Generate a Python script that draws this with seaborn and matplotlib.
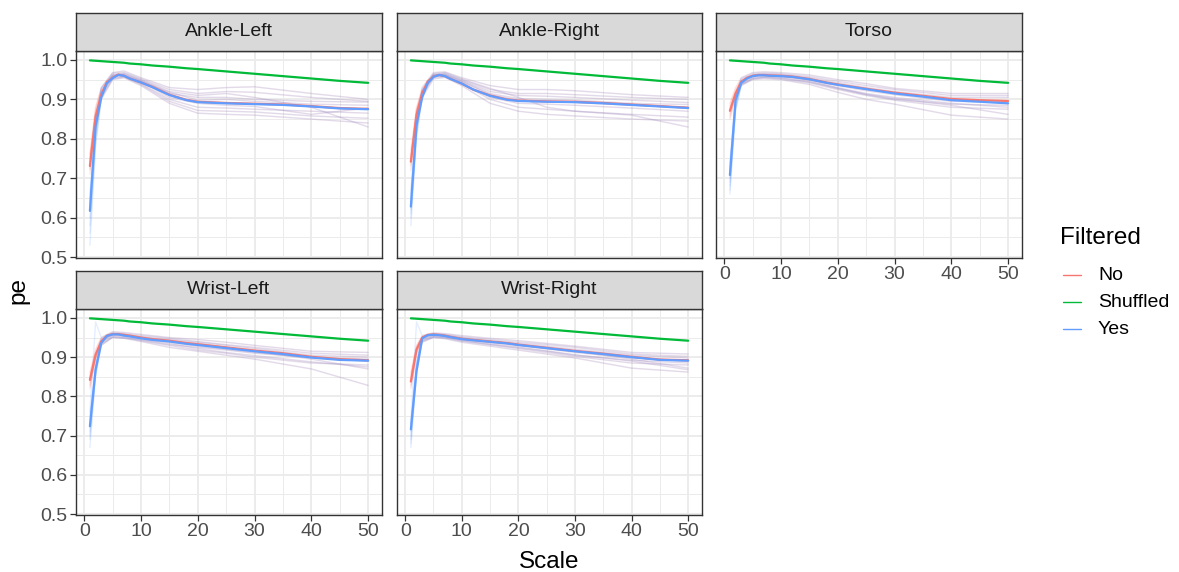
import matplotlib
matplotlib.use("Agg")
import matplotlib.pyplot as plt
from matplotlib.lines import Line2D
from matplotlib.ticker import MultipleLocator, FixedLocator
import pandas as pd
import seaborn as sns

# ---------------- data ----------------
PANELS = ["Ankle-Left", "Ankle-Right", "Torso", "Wrist-Left", "Wrist-Right"]
FILTERED = ["No", "Shuffled", "Yes"]
COLORS = {"No": "#F8766D", "Shuffled": "#00BA38", "Yes": "#619CFF"}
X_TICKS = [0, 10, 20, 30, 40, 50]
Y_TICKS = [0.5, 0.6, 0.7, 0.8, 0.9, 1.0]
Y_TICK_LABELS = ["0.5", "0.6", "0.7", "0.8", "0.9", "1.0"]

SCALE = [1, 2, 3, 4, 5, 6, 7, 8, 10, 12, 15, 18, 20, 25, 30, 35, 40, 45, 50]

ankle_left_no = [0.731, 0.856, 0.912, 0.944, 0.955, 0.963, 0.960, 0.953, 0.943, 0.932, 0.912, 0.899, 0.894, 0.891, 0.889, 0.887, 0.883, 0.878, 0.876]
ankle_left_yes = [0.617, 0.831, 0.905, 0.941, 0.954, 0.962, 0.960, 0.953, 0.943, 0.931, 0.911, 0.898, 0.893, 0.890, 0.888, 0.886, 0.882, 0.877, 0.875]
ankle_left_shuffled = [0.999, 0.998, 0.997, 0.996, 0.995, 0.994, 0.993, 0.991, 0.989, 0.986, 0.983, 0.979, 0.977, 0.971, 0.965, 0.959, 0.953, 0.947, 0.942]

ankle_right_no = [0.742, 0.860, 0.915, 0.946, 0.958, 0.962, 0.959, 0.952, 0.940, 0.925, 0.910, 0.900, 0.897, 0.895, 0.894, 0.891, 0.887, 0.883, 0.879]
ankle_right_yes = [0.628, 0.835, 0.905, 0.942, 0.957, 0.962, 0.959, 0.952, 0.940, 0.925, 0.909, 0.899, 0.896, 0.894, 0.893, 0.890, 0.886, 0.882, 0.878]
ankle_right_shuffled = [0.999, 0.998, 0.997, 0.996, 0.995, 0.994, 0.993, 0.991, 0.989, 0.986, 0.983, 0.979, 0.977, 0.971, 0.965, 0.959, 0.953, 0.947, 0.942]

torso_no = [0.871, 0.915, 0.945, 0.955, 0.960, 0.962, 0.962, 0.961, 0.960, 0.958, 0.952, 0.943, 0.938, 0.927, 0.917, 0.909, 0.901, 0.898, 0.896]
torso_yes = [0.708, 0.898, 0.942, 0.953, 0.959, 0.961, 0.961, 0.960, 0.959, 0.957, 0.951, 0.942, 0.937, 0.926, 0.915, 0.907, 0.898, 0.894, 0.890]
torso_shuffled = [0.999, 0.998, 0.997, 0.996, 0.995, 0.994, 0.993, 0.991, 0.989, 0.986, 0.983, 0.979, 0.977, 0.971, 0.965, 0.959, 0.953, 0.947, 0.942]

wrist_left_no = [0.842, 0.906, 0.940, 0.955, 0.959, 0.959, 0.957, 0.955, 0.950, 0.946, 0.942, 0.936, 0.933, 0.925, 0.917, 0.910, 0.901, 0.895, 0.892]
wrist_left_yes = [0.724, 0.868, 0.936, 0.954, 0.958, 0.958, 0.955, 0.953, 0.948, 0.944, 0.940, 0.934, 0.931, 0.923, 0.915, 0.908, 0.899, 0.893, 0.891]
wrist_left_shuffled = [0.999, 0.998, 0.997, 0.996, 0.995, 0.994, 0.993, 0.991, 0.989, 0.986, 0.983, 0.979, 0.977, 0.971, 0.965, 0.959, 0.953, 0.947, 0.942]

wrist_right_no = [0.838, 0.919, 0.950, 0.957, 0.958, 0.957, 0.955, 0.952, 0.947, 0.944, 0.940, 0.936, 0.932, 0.924, 0.916, 0.909, 0.901, 0.894, 0.892]
wrist_right_yes = [0.716, 0.864, 0.948, 0.956, 0.957, 0.956, 0.954, 0.951, 0.946, 0.943, 0.939, 0.935, 0.931, 0.923, 0.915, 0.908, 0.900, 0.893, 0.891]
wrist_right_shuffled = [0.999, 0.998, 0.997, 0.996, 0.995, 0.994, 0.993, 0.991, 0.989, 0.986, 0.983, 0.979, 0.977, 0.971, 0.965, 0.959, 0.953, 0.947, 0.942]

# individual recordings (faint lines); "Yes" differs from "No" only at the first two scales
SUB_SCALE = [1, 2, 3, 5, 7, 10, 15, 20, 25, 30, 40, 50]

ankle_left_subj = [
    [0.76, 0.880, 0.930, 0.968, 0.972, 0.955, 0.930, 0.925, 0.930, 0.932, 0.915, 0.900],
    [0.74, 0.860, 0.920, 0.960, 0.962, 0.948, 0.915, 0.905, 0.905, 0.900, 0.895, 0.893],
    [0.72, 0.850, 0.910, 0.955, 0.958, 0.940, 0.900, 0.880, 0.878, 0.875, 0.870, 0.865],
    [0.71, 0.840, 0.900, 0.950, 0.955, 0.935, 0.890, 0.865, 0.862, 0.860, 0.850, 0.840],
    [0.75, 0.870, 0.925, 0.962, 0.966, 0.950, 0.920, 0.910, 0.915, 0.905, 0.880, 0.830],
    [0.73, 0.855, 0.915, 0.958, 0.960, 0.945, 0.905, 0.890, 0.885, 0.882, 0.862, 0.878],
    [0.745, 0.865, 0.918, 0.962, 0.964, 0.947, 0.918, 0.898, 0.900, 0.895, 0.888, 0.885],
    [0.725, 0.848, 0.905, 0.952, 0.957, 0.938, 0.895, 0.872, 0.870, 0.868, 0.858, 0.852],
    [0.755, 0.875, 0.928, 0.966, 0.968, 0.952, 0.925, 0.915, 0.920, 0.918, 0.905, 0.895],
]
ankle_left_subj_yes_head = [[0.66, 0.84], [0.62, 0.82], [0.58, 0.80], [0.53, 0.78], [0.64, 0.83],
                            [0.60, 0.81], [0.63, 0.825], [0.56, 0.79], [0.65, 0.835]]

ankle_right_subj = [
    [0.77, 0.880, 0.930, 0.968, 0.970, 0.955, 0.935, 0.925, 0.925, 0.922, 0.912, 0.905],
    [0.75, 0.870, 0.920, 0.962, 0.964, 0.948, 0.920, 0.910, 0.908, 0.905, 0.898, 0.892],
    [0.73, 0.860, 0.915, 0.958, 0.960, 0.942, 0.905, 0.890, 0.888, 0.885, 0.878, 0.870],
    [0.72, 0.850, 0.905, 0.952, 0.956, 0.935, 0.890, 0.870, 0.862, 0.858, 0.850, 0.845],
    [0.76, 0.875, 0.925, 0.965, 0.968, 0.952, 0.928, 0.905, 0.880, 0.870, 0.860, 0.830],
    [0.74, 0.865, 0.918, 0.960, 0.962, 0.945, 0.912, 0.898, 0.895, 0.892, 0.885, 0.880],
    [0.755, 0.872, 0.922, 0.963, 0.966, 0.950, 0.925, 0.915, 0.915, 0.912, 0.905, 0.900],
    [0.735, 0.862, 0.912, 0.956, 0.958, 0.940, 0.900, 0.880, 0.875, 0.870, 0.862, 0.855],
    [0.745, 0.868, 0.920, 0.961, 0.963, 0.946, 0.915, 0.902, 0.900, 0.898, 0.890, 0.887],
]
ankle_right_subj_yes_head = [[0.67, 0.85], [0.64, 0.83], [0.61, 0.81], [0.58, 0.80], [0.66, 0.84],
                             [0.62, 0.82], [0.65, 0.835], [0.60, 0.815], [0.63, 0.83]]

torso_subj = [
    [0.890, 0.930, 0.955, 0.968, 0.970, 0.968, 0.962, 0.950, 0.940, 0.928, 0.915, 0.915],
    [0.880, 0.920, 0.948, 0.962, 0.965, 0.963, 0.955, 0.942, 0.930, 0.920, 0.905, 0.905],
    [0.870, 0.915, 0.942, 0.958, 0.960, 0.958, 0.950, 0.935, 0.922, 0.912, 0.895, 0.893],
    [0.860, 0.910, 0.938, 0.952, 0.955, 0.952, 0.942, 0.925, 0.910, 0.898, 0.880, 0.875],
    [0.850, 0.905, 0.935, 0.950, 0.952, 0.950, 0.938, 0.918, 0.900, 0.888, 0.860, 0.850],
    [0.875, 0.918, 0.945, 0.960, 0.962, 0.960, 0.948, 0.930, 0.915, 0.905, 0.890, 0.880],
    [0.885, 0.925, 0.952, 0.965, 0.967, 0.965, 0.958, 0.946, 0.935, 0.925, 0.910, 0.910],
    [0.865, 0.912, 0.940, 0.955, 0.957, 0.955, 0.945, 0.928, 0.913, 0.902, 0.885, 0.862],
    [0.855, 0.908, 0.937, 0.953, 0.956, 0.954, 0.944, 0.928, 0.912, 0.900, 0.888, 0.885],
]
torso_subj_yes_head = [[0.74, 0.91], [0.72, 0.90], [0.70, 0.89], [0.68, 0.88], [0.66, 0.87],
                       [0.71, 0.895], [0.73, 0.905], [0.69, 0.885], [0.67, 0.875]]

wrist_left_subj = [
    [0.860, 0.920, 0.950, 0.965, 0.963, 0.958, 0.950, 0.945, 0.938, 0.930, 0.915, 0.912],
    [0.850, 0.910, 0.945, 0.960, 0.958, 0.952, 0.945, 0.938, 0.930, 0.922, 0.905, 0.900],
    [0.840, 0.905, 0.940, 0.957, 0.955, 0.948, 0.938, 0.928, 0.920, 0.912, 0.898, 0.890],
    [0.830, 0.900, 0.935, 0.952, 0.950, 0.942, 0.930, 0.918, 0.910, 0.900, 0.885, 0.880],
    [0.820, 0.895, 0.930, 0.950, 0.948, 0.940, 0.925, 0.915, 0.905, 0.895, 0.870, 0.828],
    [0.845, 0.908, 0.942, 0.958, 0.956, 0.950, 0.942, 0.935, 0.925, 0.915, 0.895, 0.870],
    [0.855, 0.915, 0.948, 0.962, 0.960, 0.955, 0.948, 0.940, 0.932, 0.925, 0.910, 0.905],
    [0.835, 0.902, 0.938, 0.955, 0.952, 0.945, 0.935, 0.922, 0.912, 0.904, 0.888, 0.875],
    [0.825, 0.898, 0.932, 0.951, 0.949, 0.944, 0.932, 0.925, 0.918, 0.910, 0.900, 0.895],
]
wrist_left_subj_yes_head = [[0.76, 0.99], [0.74, 0.88], [0.72, 0.87], [0.70, 0.86], [0.67, 0.85],
                            [0.73, 0.87], [0.75, 0.88], [0.71, 0.865], [0.69, 0.855]]

wrist_right_subj = [
    [0.860, 0.930, 0.955, 0.962, 0.960, 0.955, 0.948, 0.942, 0.935, 0.928, 0.912, 0.908],
    [0.850, 0.925, 0.950, 0.958, 0.956, 0.950, 0.942, 0.935, 0.928, 0.920, 0.905, 0.898],
    [0.840, 0.920, 0.946, 0.955, 0.953, 0.946, 0.938, 0.930, 0.921, 0.912, 0.898, 0.890],
    [0.830, 0.915, 0.942, 0.952, 0.950, 0.942, 0.932, 0.922, 0.912, 0.902, 0.885, 0.880],
    [0.820, 0.910, 0.938, 0.950, 0.947, 0.938, 0.928, 0.918, 0.908, 0.898, 0.872, 0.862],
    [0.845, 0.922, 0.948, 0.957, 0.955, 0.948, 0.940, 0.932, 0.924, 0.915, 0.895, 0.872],
    [0.855, 0.928, 0.952, 0.960, 0.958, 0.952, 0.945, 0.938, 0.932, 0.925, 0.908, 0.902],
    [0.835, 0.918, 0.944, 0.953, 0.951, 0.944, 0.935, 0.926, 0.916, 0.906, 0.890, 0.868],
    [0.825, 0.912, 0.940, 0.951, 0.949, 0.941, 0.932, 0.924, 0.915, 0.905, 0.892, 0.885],
]
wrist_right_subj_yes_head = [[0.74, 0.99], [0.73, 0.89], [0.71, 0.88], [0.69, 0.87], [0.67, 0.86],
                             [0.72, 0.88], [0.73, 0.885], [0.70, 0.875], [0.68, 0.865]]

MEANS = {
    "Ankle-Left": (ankle_left_no, ankle_left_shuffled, ankle_left_yes),
    "Ankle-Right": (ankle_right_no, ankle_right_shuffled, ankle_right_yes),
    "Torso": (torso_no, torso_shuffled, torso_yes),
    "Wrist-Left": (wrist_left_no, wrist_left_shuffled, wrist_left_yes),
    "Wrist-Right": (wrist_right_no, wrist_right_shuffled, wrist_right_yes),
}
SUBJECTS = {
    "Ankle-Left": (ankle_left_subj, ankle_left_subj_yes_head),
    "Ankle-Right": (ankle_right_subj, ankle_right_subj_yes_head),
    "Torso": (torso_subj, torso_subj_yes_head),
    "Wrist-Left": (wrist_left_subj, wrist_left_subj_yes_head),
    "Wrist-Right": (wrist_right_subj, wrist_right_subj_yes_head),
}

# ---------------- style ----------------
sns.set_theme(style="white")
plt.rcParams["font.family"] = ["Liberation Sans", "DejaVu Sans"]

W, H = 1179, 572
fig = plt.figure(figsize=(W / 100, H / 100), dpi=100)
fig.patch.set_facecolor("white")


def rect(l, t, r, b):
    return [l / W, 1 - b / H, (r - l) / W, (b - t) / H]


COLS = [(76, 382), (397, 702), (716, 1022)]
ROWS = [(51, 258), (309, 515)]
STRIP_H = 38
BORDER = "#333333"

for i, panel in enumerate(PANELS):
    r, c = divmod(i, 3)
    l, rr = COLS[c]
    t, b = ROWS[r]
    ax = fig.add_axes(rect(l, t, rr, b))
    st = fig.add_axes(rect(l, t - STRIP_H, rr, t))

    # strip
    st.set_facecolor("#D9D9D9")
    st.set_xticks([])
    st.set_yticks([])
    for sp in st.spines.values():
        sp.set_color(BORDER)
        sp.set_linewidth(1.0)
    st.text(0.5, 0.5, panel, ha="center", va="center", fontsize=14, color="#1A1A1A",
            transform=st.transAxes)

    # faint individual lines
    subj, heads = SUBJECTS[panel]
    rows_ = []
    for k, vals in enumerate(subj):
        yes_vals = list(heads[k]) + list(vals[2:])
        for x, v_no, v_yes in zip(SUB_SCALE, vals, yes_vals):
            rows_.append((f"s{k}", "No", x, v_no))
            rows_.append((f"s{k}", "Yes", x, v_yes))
    dsub = pd.DataFrame(rows_, columns=["Subject", "Filtered", "Scale", "pe"])
    dsub["uid"] = dsub["Subject"] + dsub["Filtered"]
    sns.lineplot(data=dsub, x="Scale", y="pe", hue="Filtered", units="uid", estimator=None,
                 palette=COLORS, alpha=0.17, linewidth=1.0, legend=False, ax=ax)

    # mean lines
    mrows = []
    for f, vals in zip(FILTERED, MEANS[panel]):
        for x, v in zip(SCALE, vals):
            mrows.append((f, x, v))
    dmean = pd.DataFrame(mrows, columns=["Filtered", "Scale", "pe"])
    sns.lineplot(data=dmean, x="Scale", y="pe", hue="Filtered", hue_order=FILTERED,
                 estimator=None, palette=COLORS, linewidth=1.6, legend=False, ax=ax)

    ax.set_xlim(-1.45, 52.45)
    ax.set_ylim(0.4975, 1.0228)
    ax.set_facecolor("white")
    ax.xaxis.set_major_locator(FixedLocator(X_TICKS))
    ax.xaxis.set_minor_locator(MultipleLocator(5))
    ax.yaxis.set_major_locator(FixedLocator(Y_TICKS))
    ax.yaxis.set_minor_locator(MultipleLocator(0.05))
    ax.set_yticklabels(Y_TICK_LABELS)
    ax.grid(which="major", color="#EBEBEB", linewidth=1.3)
    ax.grid(which="minor", color="#EBEBEB", linewidth=0.7)
    ax.set_axisbelow(True)
    for sp in ax.spines.values():
        sp.set_color(BORDER)
        sp.set_linewidth(1.0)
    ax.set_xlabel("")
    ax.set_ylabel("")
    ax.tick_params(which="major", length=4, width=0.9, color=BORDER, labelcolor="#4D4D4D",
                   labelsize=14, pad=2)
    ax.tick_params(which="minor", length=0)
    show_x = (r == 1) or (panel == "Torso")
    show_y = (c == 0)
    ax.tick_params(axis="x", bottom=show_x, labelbottom=show_x)
    ax.tick_params(axis="y", left=show_y, labelleft=show_y)

# axis titles
fig.text(549 / W, 1 - 562 / H, "Scale", ha="center", va="center", fontsize=17.5, color="black")
fig.text(18 / W, 1 - 290 / H, "pe", ha="center", va="center", fontsize=17.5, rotation=90,
         color="black")

# legend
fig.text(1060 / W, 1 - 238 / H, "Filtered", ha="left", va="center", fontsize=17.5, color="black")
for j, f in enumerate(FILTERED):
    yy = 1 - (275 + 27 * j) / H
    fig.add_artist(Line2D([1063 / W, 1081 / W], [yy, yy], transform=fig.transFigure,
                          color=COLORS[f], linewidth=1.0))
    fig.text(1098 / W, yy, f, ha="left", va="center", fontsize=14, color="black")

fig.savefig("out.png", dpi=100, facecolor="white")
